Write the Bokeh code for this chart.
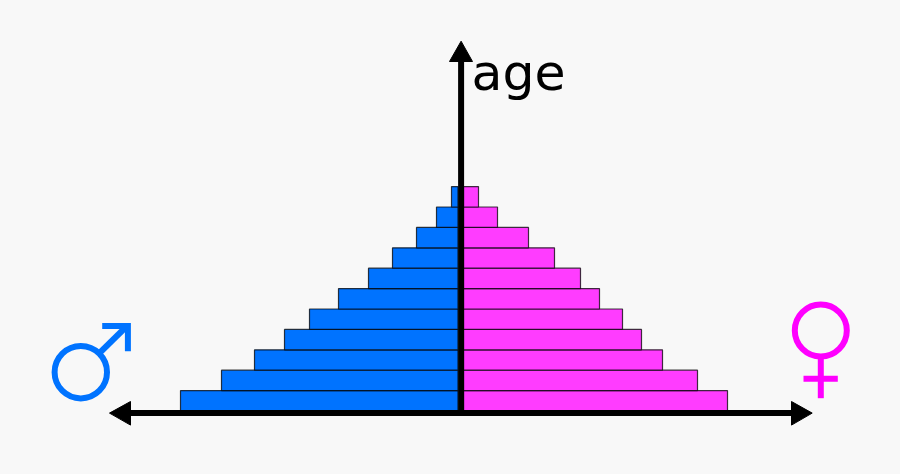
from bokeh.plotting import figure
from bokeh.models import Range1d
from bokeh.core.properties import value
from bokeh.embed import file_html
from bokeh.resources import INLINE

age_bands = list(range(11))
male = [281, 240, 207, 177, 152, 123, 93, 69, 45, 25, 10]
female = [266, 236, 201, 180, 161, 138, 119, 93, 67, 36, 17]
axis_label = "age"

BLUE, PINK = "#0073ff", "#ff3cff"
SYM_BLUE, SYM_PINK = "#0073ff", "#ff00ff"
BG = "#f8f8f8"
BAND_PX = 20.4
BASE = 410.5
CX = 461


def X(px):
    return px - CX


def Y(px):
    return (BASE - px) / BAND_PX


p = figure(width=884, height=458, output_backend="svg", toolbar_location=None,
           x_range=Range1d(X(0), X(884)), y_range=Range1d(Y(458), Y(0)),
           min_border=0, background_fill_color=BG, border_fill_color=BG,
           outline_line_color=None)
p.axis.visible = False
p.grid.visible = False

y = [a + 0.5 for a in age_bands]
p.hbar(y=y, left=[-v for v in male], right=-3.5, height=1,
       fill_color=BLUE, line_color="#000000", line_alpha=0.75, line_width=1.2)
p.hbar(y=y, left=2, right=female, height=1,
       fill_color=PINK, line_color="#000000", line_alpha=0.75, line_width=1.2)

# axes with arrow heads
p.line([X(128), X(793)], [Y(412.6)] * 2, line_color="black", line_width=6)
p.line([X(460.6)] * 2, [Y(415), Y(59)], line_color="black", line_width=6)
p.patch([X(109), X(130), X(130)], [Y(412.6), Y(401), Y(424.6)], color="black")
p.patch([X(811.7), X(791), X(791)], [Y(412.6), Y(401), Y(424.6)], color="black")
p.patch([X(460.6), X(449), X(472)], [Y(40.7), Y(61), Y(61)], color="black")

p.text([X(471)], [Y(72)], text=[axis_label], text_font=value("DejaVu Sans"),
       text_font_size="50.5px", text_color="black", text_baseline="alphabetic",
       text_align="left")

# male symbol
p.circle([X(80.3)], [Y(371.7)], radius=26.2, fill_color=None, line_color=SYM_BLUE, line_width=6)
p.line([X(99), X(127)], [Y(352.5), Y(325)], line_color=SYM_BLUE, line_width=6)
p.line([X(101.7), X(127.4), X(127.4)], [Y(325.4), Y(325.4), Y(350.7)],
       line_color=SYM_BLUE, line_width=6, line_join="miter")

# female symbol
p.circle([X(820.3)], [Y(330)], radius=26, fill_color=None, line_color=SYM_PINK, line_width=6)
p.line([X(820.3), X(820.3)], [Y(358), Y(397.7)], line_color=SYM_PINK, line_width=6)
p.line([X(803), X(837.3)], [Y(378.3), Y(378.3)], line_color=SYM_PINK, line_width=6)

html = file_html(p, INLINE)
html = html.replace("<head>", "<head><style>html,body{background:%s}</style>" % BG, 1)
open("out.html", "w").write(html)
